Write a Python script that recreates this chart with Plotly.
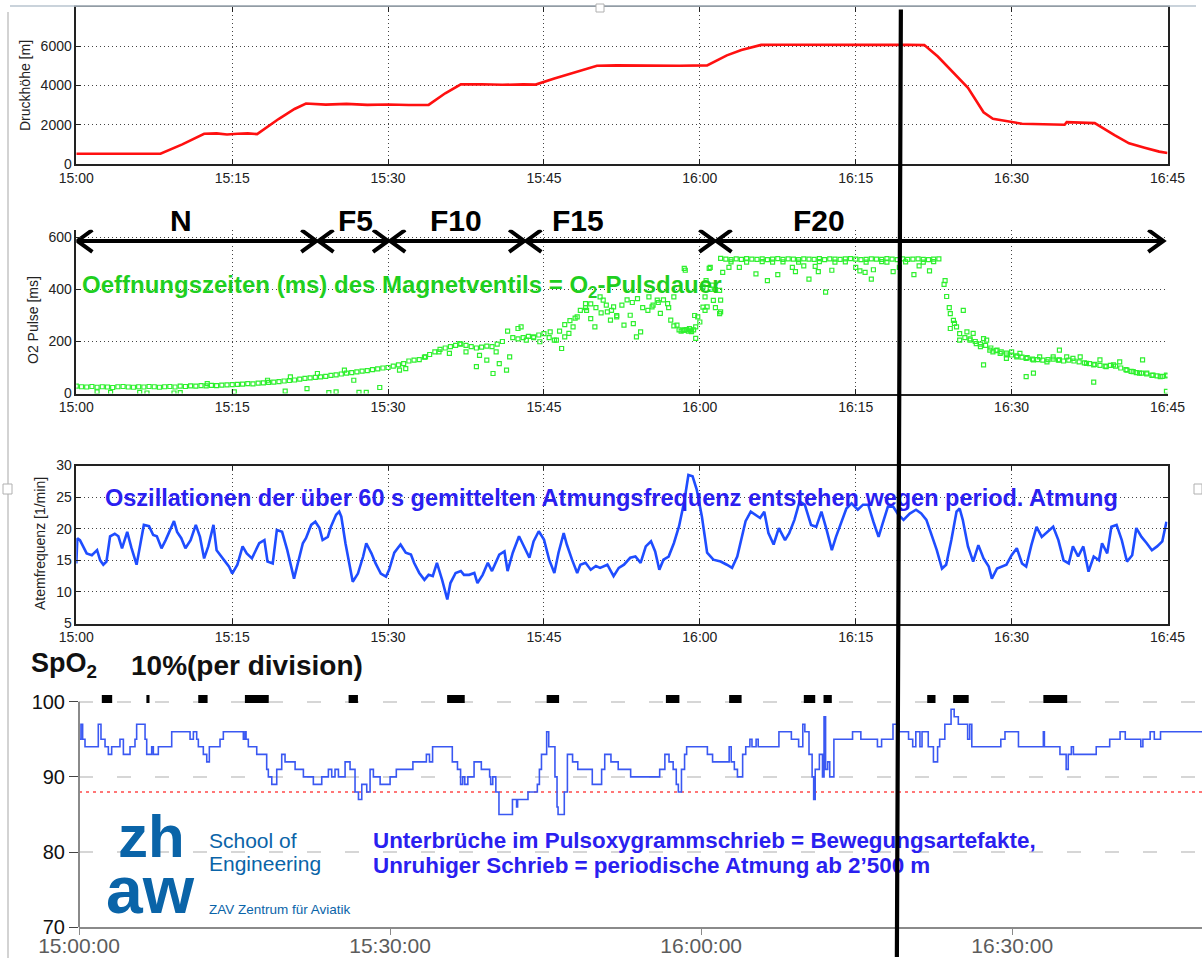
import plotly.graph_objects as go

W, H = 1202, 958
FONT = "Liberation Sans, Arial, sans-serif"

# ---------------- time axis: minutes after 15:00 ----------------
TICK_MIN = [0, 15, 30, 45, 60, 75, 90, 105]
TICK_TEXT = ["15:00", "15:15", "15:30", "15:45", "16:00", "16:15", "16:30", "16:45"]
SPO2_TICK_MIN = [0, 30, 60, 90]
SPO2_TICK_TEXT = ["15:00:00", "15:30:00", "16:00:00", "16:30:00"]

# ---------------- pressure altitude [m] ----------------
ALTITUDE = [
    (0, 520), (3, 510), (6, 525), (8.1, 520), (10.2, 1000), (12.3, 1540), (13.5, 1560),
    (14.5, 1500), (15.5, 1540), (16.5, 1560), (17.4, 1520), (19.5, 2300), (21.0, 2800),
    (22.1, 3080), (24, 3020), (26, 3060), (28, 3010), (30, 3030), (32, 3000), (33.9, 3010),
    (35.5, 3600), (37.0, 4050), (39, 4060), (41, 4030), (43, 4050), (44.2, 4040),
    (46, 4350), (48, 4650), (50.1, 5000), (52, 5020), (54, 5010), (56, 5030), (58, 5000),
    (60.7, 5020), (62.6, 5530), (64, 5800), (65.9, 6060), (68, 6070), (71, 6060),
    (74, 6080), (77, 6060), (80, 6070), (81.6, 6050), (82.9, 5470), (85.8, 3880),
    (87.3, 2630), (88.2, 2300), (91.0, 2050), (93, 2010), (95.1, 2000), (95.3, 2130),
    (97.4, 2120), (98.0, 2080), (99.9, 1470), (101.3, 1050), (102.8, 830), (104.2, 630),
    (105, 560),
]

# ---------------- O2 pulse duration [ms], one reading per half minute ----------------
O2_STEP_MIN = 0.5
O2_MS = [
    28, 26, 25, 27, 24, 26, 25, 23, 26, 27, 25, 24, 26, 25, 27, 26, 24, 26, 27, 25, 28,
    27, 29, 28, 30, 29, 31, 30, 32, 33, 34, 35, 36, 38, 37, 40, 41, 43, 44, 46, 48,
    50, 52, 55, 58, 60, 62, 64, 66, 70, 72, 75, 78, 80, 83, 86, 88, 92, 95, 98, 100,
    105, 110, 115, 125, 128, 130, 140, 150, 160, 170, 175, 180, 185, 190, 185, 180, 175, 178, 182, 180,
    190, 200, 240, 215, 210, 215, 220, 215, 225, 230, 215, 205, 240, 265, 280, 290, 320, 330, 345, 330,
    310, 340, 320, 300, 340, 360, 350, 365, 330, 320, 340, 350, 360, 330, 260, 245, 245, 250, 300, 275,
    320, 400, 330, 520, 517, 515, 518, 516, 519, 517, 516, 518, 515, 517, 519, 516, 518, 517, 515, 518,
    517, 516, 519, 515, 518, 517, 516, 518, 519, 517, 515, 516, 518, 517, 516, 519, 517, 515, 518, 516,
    517, 518, 516, 515, 517, 518, 420, 330, 270, 230, 215, 210, 200, 190, 185, 175, 165, 160, 155, 148,
    145, 140, 138, 132, 130, 128, 130, 132, 128, 125, 128, 125, 122, 118, 115, 112, 108, 105, 108, 105,
    98, 92, 85, 80, 78, 75, 70, 68, 66, 68,
]
# additional (scattered) valve openings
O2_EXTRA = [
    (2.0, 6), (3.3, 4), (6.1, 4), (6.8, 2), (9.4, 2), (10.0, 3), (15.2, 6), (20.1, 9),
    (22.2, 19), (24.3, 3), (25.0, 6), (27.2, 4), (27.9, 4), (29.2, 23), (12.6, 38),
    (18.4, 51), (20.6, 64), (23.2, 77), (25.8, 90), (26.7, 51),
    (31.1, 90), (31.7, 96), (33.6, 141), (34.9, 160), (35.9, 154), (36.9, 192), (37.5, 160),
    (38.5, 103), (38.8, 147), (39.5, 128), (40.1, 77), (40.4, 160), (40.7, 115), (41.4, 90),
    (41.7, 141), (42.5, 250), (42.8, 256), (43.3, 205), (44.0, 218), (44.6, 199), (45.6, 237),
    (46.2, 205), (46.7, 173), (47.0, 218), (47.4, 231),
    (47.8, 256), (48.2, 295), (49.0, 346), (49.1, 320), (49.5, 288), (49.9, 256), (50.4, 372),
    (50.7, 359), (51.1, 314), (51.4, 282), (51.7, 333), (52.0, 295), (52.7, 263), (53.3, 301),
    (53.6, 269), (53.9, 218), (54.3, 237), (55.1, 372), (55.4, 333), (55.9, 359), (56.2, 308),
    (56.9, 346), (57.2, 282), (57.5, 372), (57.8, 263), (58.5, 481), (58.6, 474), (59.1, 244),
    (59.6, 256), (59.8, 295), (59.6, 212), (60.5, 372), (60.7, 333), (60.9, 481), (61.2, 417),
    (61.9, 397), (62.0, 359), (62.0, 314), (60.3, 410), (60.6, 434), (61.0, 485), (61.3, 358),
    (61.9, 307), (60.3, 332), (61.5, 400), (58.2, 240), (58.4, 243), (58.7, 246), (58.9, 240),
    (59.2, 238), (59.4, 245),
    (62.2, 466), (62.8, 485), (63.8, 485), (65.4, 460), (66.5, 434), (67.5, 457), (68.9, 485),
    (69.2, 469), (70.0, 491), (70.5, 440), (71.1, 489), (71.4, 469), (72.1, 390), (72.7, 474),
    (75.0, 485), (75.4, 472), (75.9, 466), (76.5, 440), (76.7, 476), (78.6, 469), (79.2, 485),
    (80.6, 457), (81.1, 491), (82.1, 472), (63.0, 506), (64.5, 505), (66.0, 507), (67.0, 505),
    (68.0, 506), (69.5, 505), (71.5, 507), (73.0, 505), (74.0, 506), (76.0, 505), (77.5, 507),
    (78.0, 505), (79.8, 506), (81.5, 505), (82.5, 507),
    (83.6, 434), (83.75, 373), (84.1, 307), (84.1, 250), (84.4, 281), (84.7, 256), (85.0, 205),
    (85.35, 320), (85.7, 237), (86.0, 205), (86.3, 231), (86.6, 192), (87.0, 180), (87.3, 211),
    (87.3, 110), (87.6, 205), (87.9, 167), (88.2, 160), (88.6, 167), (88.9, 154), (89.5, 148),
    (89.5, 135), (90.0, 160), (90.5, 141), (90.8, 154), (91.4, 135), (91.4, 65), (92.1, 129),
    (92.1, 78), (92.7, 141), (93.4, 122), (94.0, 141), (94.6, 129), (94.6, 167), (95.3, 141),
    (95.9, 135), (96.6, 141), (97.2, 116), (97.9, 110), (97.9, 44), (98.5, 129), (99.1, 103),
    (99.8, 110), (100.4, 122), (101.1, 90), (101.7, 84), (102.3, 78), (102.6, 129), (103.0, 78),
    (103.6, 71), (104.3, 65), (104.9, 71), (104.9, 8),
]

# ---------------- oxygen flow phases ----------------
PHASE_NAMES = ["N", "F5", "F10", "F15", "F20"]
PHASE_EDGES = [0.0, 23.2, 30.1, 43.2, 61.5, 104.7]
PHASE_LABEL_MIN = [10.1, 26.9, 36.5, 48.3, 71.5]
PHASE_ARROW_MS = 587

# ---------------- breathing rate [1/min], 60 s mean ----------------
BREATH = [
    (0, 14.5), (0.1, 18.5), (0.35, 18.2), (0.68, 17.2), (1.0, 16.1), (1.5, 15.8), (2.0, 16.6),
    (2.3, 15.0), (2.6, 14.3), (2.9, 14.8), (3.25, 18.8), (3.7, 19.2), (4.05, 18.8), (4.4, 16.9),
    (4.9, 19.5), (5.3, 17.0), (5.8, 14.3), (6.5, 20.6), (7.0, 20.4), (7.4, 19.0), (7.75, 18.8),
    (8.2, 16.9), (8.6, 18.2), (9.4, 21.2), (9.7, 19.5), (10.1, 18.5), (10.5, 16.9), (11.0, 18.2),
    (11.5, 20.6), (11.9, 18.7), (12.3, 15.3), (12.7, 17.2), (13.2, 20.6), (13.5, 16.6),
    (14.2, 15.0), (14.7, 14.0), (15.0, 12.9), (15.5, 14.3), (16.0, 17.2), (16.4, 16.1),
    (16.9, 15.3), (17.6, 17.7), (18.1, 18.2), (18.4, 14.8), (18.9, 14.5), (19.3, 19.8),
    (19.8, 19.5), (20.3, 16.6), (20.95, 12.1), (21.4, 15.0), (21.8, 17.7), (22.1, 18.5),
    (22.6, 20.6), (23.0, 21.1), (23.4, 20.1), (23.7, 18.2), (24.2, 18.7), (24.5, 20.3),
    (25.0, 22.2), (25.3, 22.7), (25.5, 21.9), (25.9, 17.7), (26.6, 11.6), (27.1, 12.9),
    (27.6, 15.6), (27.9, 17.7), (28.4, 16.1), (28.8, 14.5), (29.3, 12.9), (29.8, 12.4),
    (30.1, 13.5), (30.6, 16.2), (31.2, 17.5), (31.7, 16.2), (32.2, 15.9), (32.5, 14.6),
    (33.0, 13.0), (33.5, 11.9), (33.9, 12.7), (34.3, 12.5), (34.7, 14.6), (35.2, 11.9),
    (35.7, 8.8), (36.0, 11.4), (36.5, 13.0), (37.0, 13.3), (37.3, 12.7), (37.8, 12.7),
    (38.3, 13.0), (38.6, 11.4), (39.1, 12.7), (39.6, 14.6), (40.0, 13.3), (40.7, 15.9),
    (41.2, 16.4), (41.5, 13.3), (42.0, 16.2), (42.6, 18.8), (43.1, 17.2), (43.6, 15.4),
    (44.0, 18.0), (44.5, 19.6), (45.0, 18.3), (45.5, 15.1), (46.0, 13.0), (46.4, 16.2),
    (46.9, 19.3), (47.2, 17.5), (47.7, 15.1), (48.2, 13.0), (48.5, 14.3), (49.0, 14.6),
    (49.5, 13.5), (50.0, 14.1), (50.4, 13.8), (51.1, 14.3), (51.7, 12.5), (52.2, 13.8),
    (52.7, 14.3), (53.3, 15.4), (53.8, 15.6), (54.3, 14.6), (54.8, 17.2), (55.3, 18.0),
    (55.7, 16.4), (56.1, 13.5), (56.5, 15.1), (57.0, 15.6), (57.5, 17.7), (58.0, 20.4),
    (58.5, 24.3), (58.9, 28.5), (59.3, 28.3), (59.7, 26.2), (60.2, 21.9), (60.7, 16.2),
    (61.3, 15.1), (62.0, 14.8), (62.6, 14.3), (63.1, 13.8), (63.6, 15.6), (63.9, 17.7),
    (64.4, 21.2), (64.9, 22.7), (65.4, 22.2), (65.8, 21.7), (66.2, 22.7), (66.6, 19.3),
    (67.1, 17.5), (67.6, 20.1), (68.2, 18.2), (68.6, 19.3), (69.1, 21.4), (69.6, 24.3),
    (70.1, 23.8), (70.7, 20.6), (71.2, 20.3), (71.7, 22.7), (72.2, 19.8), (72.7, 16.6),
    (73.1, 18.7), (73.6, 21.1), (74.1, 23.2), (74.6, 24.0), (75.2, 23.0), (75.7, 23.8),
    (76.2, 23.8), (76.7, 21.1), (77.2, 18.7), (77.6, 20.9), (78.1, 23.5), (78.6, 23.5),
    (79.1, 22.2), (79.6, 21.4), (80.2, 22.4), (80.8, 23.0), (81.3, 22.4), (81.8, 21.4),
    (82.3, 19.0), (82.8, 16.6), (83.3, 13.7), (83.7, 14.3), (84.2, 18.2), (84.7, 22.7),
    (85.0, 23.2), (85.3, 21.4), (85.8, 17.2), (86.3, 14.8), (86.8, 17.4), (87.3, 15.3),
    (87.8, 14.0), (88.1, 12.1), (88.6, 13.7), (89.0, 14.0), (89.5, 14.3), (90.0, 15.8),
    (90.5, 16.9), (91.0, 14.5), (91.4, 14.0), (91.9, 17.4), (92.4, 20.3), (92.9, 18.7),
    (93.4, 19.5), (94.0, 20.3), (94.5, 18.2), (95.0, 15.0), (95.5, 14.5), (95.9, 17.2),
    (96.4, 15.6), (96.9, 17.2), (97.4, 13.2), (97.9, 15.6), (98.4, 15.0), (98.7, 17.7),
    (99.2, 16.1), (99.6, 20.3), (100.1, 20.6), (100.6, 18.2), (101.1, 14.8), (101.6, 15.8),
    (102.0, 20.1), (102.5, 18.7), (103.0, 17.7), (103.5, 16.6), (104.0, 17.2), (104.5, 18.0),
    (104.9, 21.1),
]

# ---------------- SpO2 [%] (value changes, held until next change) ----------------
SPO2 = [
    (0.0, 95), (0.19, 97), (0.35, 95), (0.58, 94), (1.86, 97), (2.12, 95), (2.51, 94),
    (2.83, 93), (3.15, 94), (3.95, 95), (4.28, 93), (4.92, 94), (5.40, 95), (5.56, 97),
    (6.37, 95), (6.53, 93), (7.01, 94), (7.17, 93), (7.65, 94), (8.94, 96), (10.71, 95),
    (11.03, 96), (11.35, 95), (11.51, 94), (11.99, 93), (12.32, 92), (12.57, 94), (13.60, 95),
    (13.92, 96), (15.85, 95), (16.01, 96), (16.11, 95), (16.33, 94), (17.14, 93), (18.10, 91),
    (18.26, 90), (18.59, 89), (19.07, 91), (19.55, 93), (19.87, 92), (20.84, 91), (21.64, 90),
    (22.60, 89), (23.41, 90), (24.05, 91), (24.37, 90), (24.69, 91), (25.02, 90), (25.66, 92),
    (26.14, 91), (26.62, 88), (26.95, 87), (27.27, 89), (27.75, 88), (28.07, 91), (28.39, 90),
    (29.04, 89), (30.0, 90), (30.6, 91), (32.2, 92), (33.5, 93), (33.8, 92), (34.1, 94),
    (36.0, 92), (36.5, 91), (36.8, 89), (37.0, 90), (37.2, 89), (37.5, 90), (38.1, 92),
    (38.8, 91), (39.6, 90), (39.7, 89), (39.9, 90), (40.2, 88), (40.5, 85), (41.8, 87),
    (42.2, 86), (42.3, 87), (43.3, 88), (44.2, 89), (44.4, 91), (44.6, 93), (45.1, 96),
    (45.3, 94), (45.9, 90), (46.1, 86), (46.2, 85), (46.8, 88), (47.1, 93), (47.6, 92),
    (48.1, 91), (49.5, 89), (50.4, 91), (50.7, 93), (51.3, 92), (52.0, 91), (53.2, 90),
    (56.0, 91), (56.5, 93), (56.9, 92), (57.3, 91), (57.6, 89), (57.8, 88), (58.1, 91),
    (58.4, 93), (58.6, 94), (60.6, 93), (61.1, 92), (62.7, 94), (62.9, 92), (63.2, 91),
    (63.5, 90), (64.0, 93), (64.3, 94), (64.7, 95), (64.9, 94), (65.3, 95), (65.5, 94),
    (67.5, 96), (68.7, 95), (69.4, 94), (69.8, 97), (70.0, 96), (70.4, 93), (70.7, 90),
    (70.85, 87), (71.0, 91), (71.4, 93), (71.7, 90), (71.85, 98), (72.0, 91), (72.2, 92),
    (72.4, 90), (72.8, 95), (74.6, 96), (75.4, 95), (77.0, 94), (77.4, 95), (78.5, 97),
    (79.1, 96), (80.0, 95), (80.4, 94), (80.7, 96), (81.1, 94), (81.3, 96), (81.9, 94),
    (82.4, 92), (82.8, 94), (83.0, 95), (83.5, 97), (84.1, 99), (84.4, 98), (84.8, 97),
    (85.7, 95), (85.9, 97), (86.1, 94), (88.9, 95), (89.3, 96), (90.6, 94), (93.0, 96),
    (93.1, 94), (94.6, 93), (95.2, 91), (95.4, 93), (95.7, 94), (95.9, 93), (98.1, 94),
    (99.4, 95), (100.4, 96), (100.9, 95), (102.4, 94), (102.6, 95), (103.3, 96), (103.7, 95),
    (104.3, 96), (108.3, 96),
]
# signal interruptions (movement artefacts): start / end in minutes
ARTEFACT_START = [2.2, 6.5, 11.5, 16.0, 26.0, 35.5, 45.1, 56.6, 62.7, 69.9, 71.8, 81.8, 84.3, 93.0]
ARTEFACT_END = [3.2, 6.8, 12.4, 18.3, 26.9, 37.2, 46.3, 57.9, 63.9, 71.0, 72.6, 82.6, 85.8, 95.3]
ARTEFACT_LEVEL = 100.35
SPO2_LIMIT = 88
SPO2_X_MAX = 108.3

CURSOR_MIN = 79.2  # marked instant 16:19


def px_x(p):
    return p / W


def px_y(p):
    return 1 - p / H


# ---------------- subplot geometry ----------------
X_LEFT, X_RIGHT = 76.3, 1167.5
PX_PER_MIN = (X_RIGHT - X_LEFT) / 105.0
X_DOM = [px_x(X_LEFT), px_x(X_RIGHT)]
Y1_DOM = [px_y(164), px_y(6.8)]
Y2_DOM = [px_y(393.5), px_y(229.7)]
Y3_DOM = [px_y(623.5), px_y(465.5)]
X4_DOM = [px_x(79), 1.0]
Y4_DOM = [px_y(927.3), px_y(690.4)]

fig = go.Figure()

alt_t, alt_v = zip(*ALTITUDE)
fig.add_trace(go.Scatter(x=alt_t, y=alt_v, mode="lines", xaxis="x", yaxis="y",
                         line=dict(color="#ff1010", width=2.6), showlegend=False))

o2_t = [i * O2_STEP_MIN for i in range(len(O2_MS))]
marker_o2 = dict(symbol="square-open", size=4, color="#2ef02e", line=dict(width=1.2, color="#2ef02e"))
fig.add_trace(go.Scatter(x=o2_t, y=O2_MS, mode="markers", xaxis="x2", yaxis="y2",
                         marker=marker_o2, showlegend=False))
ex_t, ex_v = zip(*O2_EXTRA)
fig.add_trace(go.Scatter(x=ex_t, y=ex_v, mode="markers", xaxis="x2", yaxis="y2",
                         marker=marker_o2, showlegend=False))

# double-headed phase arrows with open chevrons
arm_dx, arm_dy = 1.45, 42
ax_pts, ay_pts = [], []
y0 = PHASE_ARROW_MS
for a, b in zip(PHASE_EDGES[:-1], PHASE_EDGES[1:]):
    a += 0.1
    b -= 0.1
    ax_pts += [a + arm_dx, a, a + arm_dx, None, a, b, None, b - arm_dx, b, b - arm_dx, None]
    ay_pts += [y0 + arm_dy, y0, y0 - arm_dy, None, y0, y0, None, y0 + arm_dy, y0, y0 - arm_dy, None]
fig.add_trace(go.Scatter(x=ax_pts, y=ay_pts, mode="lines", xaxis="x2", yaxis="y2",
                         line=dict(color="black", width=4), showlegend=False))

br_t, br_v = zip(*BREATH)
fig.add_trace(go.Scatter(x=br_t, y=br_v, mode="lines", xaxis="x3", yaxis="y3",
                         line=dict(color="#1f4dff", width=2.6), showlegend=False))

fig.add_trace(go.Scatter(x=[0, SPO2_X_MAX], y=[SPO2_LIMIT, SPO2_LIMIT], mode="lines",
                         xaxis="x4", yaxis="y4", line=dict(color="#ff4a4a", width=1.6, dash="3px,4px"),
                         showlegend=False))
sp_t, sp_v = zip(*SPO2)
fig.add_trace(go.Scatter(x=sp_t, y=sp_v, mode="lines", xaxis="x4", yaxis="y4", line_shape="hv",
                         line=dict(color="#3a58f2", width=1.6), showlegend=False))
art_x, art_y = [], []
for s, e in zip(ARTEFACT_START, ARTEFACT_END):
    art_x += [s, e, None]
    art_y += [ARTEFACT_LEVEL, ARTEFACT_LEVEL, None]
fig.add_trace(go.Scatter(x=art_x, y=art_y, mode="lines", xaxis="x4", yaxis="y4",
                         line=dict(color="black", width=8), showlegend=False))

# ---------------- axes ----------------
tickfont = dict(family=FONT, size=14, color="#222")


def matlab_x(anchor, mirror):
    return dict(domain=X_DOM, anchor=anchor, range=[0, 105], tickvals=TICK_MIN, ticktext=TICK_TEXT,
                showgrid=True, gridcolor="#444", griddash="1px,3px", gridwidth=1,
                ticks="inside", ticklen=5, tickcolor="#222", showline=True, linecolor="#222",
                linewidth=1.5, mirror=mirror, zeroline=False, tickfont=tickfont, automargin=False)


def matlab_y(anchor, dom, rng, vals, mirror):
    return dict(domain=dom, anchor=anchor, range=rng, tickvals=vals,
                showgrid=True, gridcolor="#444", griddash="1px,3px", gridwidth=1,
                ticks="inside", ticklen=5, tickcolor="#222", showline=True, linecolor="#222",
                linewidth=1.5, mirror=mirror, zeroline=False, tickfont=tickfont, automargin=False)


layout = dict(
    template="none",
    width=W, height=H, margin=dict(l=0, r=0, t=0, b=0, pad=0, autoexpand=False),
    paper_bgcolor="white", plot_bgcolor="white", showlegend=False,
    xaxis=matlab_x("y", "allticks"),
    yaxis=matlab_y("x", Y1_DOM, [0, 8000], [0, 2000, 4000, 6000, 8000], "allticks"),
    xaxis2=matlab_x("y2", False),
    yaxis2=matlab_y("x2", Y2_DOM, [0, 630], [0, 200, 400, 600], False),
    xaxis3=matlab_x("y3", "allticks"),
    yaxis3=matlab_y("x3", Y3_DOM, [5, 30], [5, 10, 15, 20, 25, 30], "allticks"),
    xaxis4=dict(domain=X4_DOM, anchor="y4", range=[0, SPO2_X_MAX], tickvals=SPO2_TICK_MIN,
                ticktext=SPO2_TICK_TEXT, showgrid=False, zeroline=False, showline=True,
                linecolor="#8a8a8a", linewidth=2, ticks="outside", ticklen=6, tickcolor="#8a8a8a",
                ticklabelstandoff=-8,
                tickfont=dict(family=FONT, size=21, color="#5c5c5c"), automargin=False),
    yaxis4=dict(domain=Y4_DOM, anchor="x4", range=[70, 101.5], tickvals=[70, 80, 90, 100],
                showgrid=True, gridcolor="#d6d6d6", griddash="14px,24px", gridwidth=1.5,
                zeroline=False, showline=False, ticks="outside", ticklen=9, tickcolor="#444",
                tickfont=dict(family=FONT, size=20, color="#111"), automargin=False),
)
fig.update_layout(**layout)

# ---------------- text ----------------
ann = []


def text(x, y, s, size, color, bold=False, angle=0, xanchor="left", xref="paper", xval=None):
    ann.append(dict(x=xval if xval is not None else px_x(x), y=px_y(y), xref=xref, yref="paper",
                    text=f"<b>{s}</b>" if bold else s, showarrow=False, textangle=angle,
                    xanchor=xanchor, yanchor="middle",
                    font=dict(family=FONT, size=size, color=color)))


text(25, 86, "Druckhöhe [m]", 14, "#222", angle=-90, xanchor="center")
text(33, 320, "O2 Pulse [ms]", 14, "#222", angle=-90, xanchor="center")
text(40, 544, "Atemfrequenz [1/min]", 14, "#222", angle=-90, xanchor="center")

for name, t in zip(PHASE_NAMES, PHASE_LABEL_MIN):
    text(0, 221, name, 30, "black", bold=True, xanchor="center", xref="x2", xval=t)

text(80, 286, "Oeffnungszeiten (ms) des Magnetventils = O<sub>2</sub>-Pulsdauer", 24, "#1fcf1f", bold=True)
text(103, 498, "Oszillationen der über 60 s gemittelten Atmungsfrequenz entstehen wegen period. Atmung",
     23.5, "#2a20f0", bold=True)

text(29, 665, "SpO<sub>2</sub>", 27, "#111", bold=True)
text(129, 665, "10%(per division)", 28, "#111", bold=True)

ZHAW = "#0a64a8"
text(116, 836, "zh", 60, ZHAW, bold=True)
text(104, 890, "aw", 66, ZHAW, bold=True)
text(207, 840, "School of", 21, ZHAW)
text(207, 863, "Engineering", 21, ZHAW)
text(207, 909, "ZAV Zentrum für Aviatik", 13.5, ZHAW)

text(371, 840, "Unterbrüche im Pulsoxygrammschrieb = Bewegungsartefakte,", 22.4, "#2a20f0", bold=True)
text(371, 865, "Unruhiger Schrieb = periodische Atmung ab 2’500 m", 22.4, "#2a20f0", bold=True)

# marked instant: vertical cursor across all panels, drawn on top of everything
cursor_px = X_LEFT + CURSOR_MIN * PX_PER_MIN
ann.append(dict(x=px_x(cursor_px - 2.5), y=0, xref="paper", yref="paper", text="",
                showarrow=True, arrowhead=0, arrowwidth=4.2, arrowcolor="black",
                ax=4, ay=-(H - 8), axref="pixel", ayref="pixel", standoff=0, startstandoff=0))
fig.update_layout(annotations=ann)

# ---------------- frame decorations ----------------
frame = "#b9c4cf"
shapes = [
    dict(type="rect", xref="paper", yref="paper", x0=0, x1=1, y0=px_y(5.5), y1=1,
         fillcolor="white", line=dict(width=0), layer="above"),
    dict(type="line", xref="paper", yref="paper", x0=px_x(10), x1=px_x(1196), y0=px_y(6), y1=px_y(6),
         line=dict(color=frame, width=1.5), layer="above"),
    dict(type="line", xref="paper", yref="paper", x0=px_x(8), x1=px_x(8), y0=px_y(12), y1=0,
         line=dict(color="#c4c4c4", width=1.5), layer="above"),
    dict(type="rect", xref="paper", yref="paper", x0=px_x(596), x1=px_x(604), y0=px_y(12), y1=px_y(4),
         fillcolor="white", line=dict(color="#b0b0b0", width=1), layer="above"),
    dict(type="rect", xref="paper", yref="paper", x0=px_x(3), x1=px_x(12), y0=px_y(494), y1=px_y(484),
         fillcolor="white", line=dict(color="#b0b0b0", width=1), layer="above"),
    dict(type="rect", xref="paper", yref="paper", x0=px_x(1194), x1=px_x(1202), y0=px_y(494), y1=px_y(484),
         fillcolor="white", line=dict(color="#b0b0b0", width=1), layer="above"),
    # SpO2 value axis line (70 .. 100 %)
    dict(type="line", xref="paper", yref="paper", x0=px_x(79), x1=px_x(79), y0=px_y(927.3), y1=px_y(701.7),
         line=dict(color="#8a8a8a", width=2), layer="above"),
]
fig.update_layout(shapes=shapes)

fig.write_html("out.html")
